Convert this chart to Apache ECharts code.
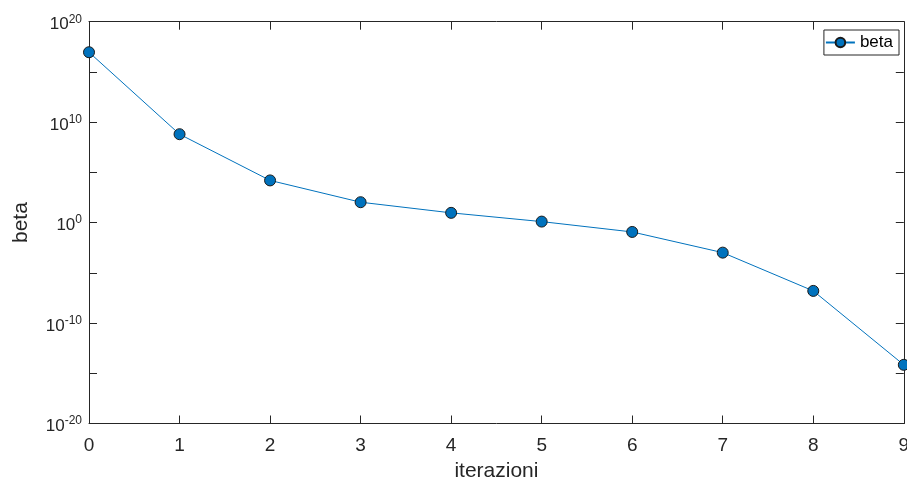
<!DOCTYPE html>
<html>
<head>
<meta charset="utf-8">
<script src="https://cdn.jsdelivr.net/npm/echarts@6/dist/echarts.min.js"></script>
<style>html,body{margin:0;padding:0;background:#fff}#c{width:907px;height:481px}</style>
</head>
<body>
<div id="c"></div>
<script>
const iterations = [0, 1, 2, 3, 4, 5, 6, 7, 8, 9];
const betaExponents = [16.96, 8.8, 4.2, 2.03, 0.97, 0.1, -0.93, -2.99, -6.8, -14.16];
const betaValues = betaExponents.map(e => Math.pow(10, e));
const seriesName = 'beta';
const xTickLabels = ['0','1','2','3','4','5','6','7','8','9'];

const chart = echarts.init(document.getElementById('c'));
const axisCol = '#262626';
const font = 'Liberation Sans, Arial, Helvetica, sans-serif';

function yLabel(v) {
  const e = Math.round(Math.log10(v));
  if (e % 10 !== 0) return '';
  return '{b|10}{s|' + e + '}';
}

chart.setOption({
  animation: false,
  grid: { left: 89, top: 21.7, right: 3.2, bottom: 57.5, show: false, outerBoundsMode: 'none', containLabel: false },
  legend: {
    data: [seriesName],
    right: 8, top: 30,
    orient: 'vertical',
    backgroundColor: '#fff',
    borderColor: axisCol, borderWidth: 1, borderRadius: 0,
    padding: [4, 6, 4, 1],
    itemWidth: 29, itemHeight: 12, itemGap: 0,
    textStyle: { fontFamily: font, fontSize: 17, color: '#000' }
  },
  xAxis: [{
    type: 'value', min: 0, max: 9, interval: 1,
    name: 'iterazioni', nameLocation: 'middle', nameGap: 35,
    nameTextStyle: { fontFamily: font, fontSize: 21, color: axisCol },
    axisLine: { onZero: false, lineStyle: { color: axisCol, width: 1 } },
    axisTick: { inside: true, length: 8, lineStyle: { color: axisCol } },
    axisLabel: { fontFamily: font, fontSize: 19, color: axisCol, margin: 13,
      formatter: v => xTickLabels[v] },
    splitLine: { show: false }
  }, {
    type: 'value', min: 0, max: 9, interval: 1, position: 'top',
    axisLine: { onZero: false, lineStyle: { color: axisCol, width: 1 } },
    axisTick: { inside: true, length: 8, lineStyle: { color: axisCol } },
    axisLabel: { show: false }, splitLine: { show: false }
  }],
  yAxis: [{
    type: 'log', logBase: 10, min: 1e-20, max: 1e20, interval: 5,
    name: 'beta', nameLocation: 'middle', nameGap: 57,
    nameTextStyle: { fontFamily: font, fontSize: 21, color: axisCol },
    axisLine: { show: true, onZero: false, lineStyle: { color: axisCol, width: 1 } },
    axisTick: { inside: true, length: 8, lineStyle: { color: axisCol } },
    axisLabel: { fontFamily: font, color: axisCol, margin: 7, formatter: yLabel,
      padding: [6, 0, 0, 0],
      rich: {
        b: { fontFamily: font, fontSize: 17, color: axisCol },
        s: { fontFamily: font, fontSize: 12, color: axisCol, padding: [0, 0, 11, 0] }
      }
    },
    splitLine: { show: false }
  }, {
    type: 'log', logBase: 10, min: 1e-20, max: 1e20, interval: 5, position: 'right',
    axisLine: { show: true, onZero: false, lineStyle: { color: axisCol, width: 1 } },
    axisTick: { inside: true, length: 8, lineStyle: { color: axisCol } },
    axisLabel: { show: false }, splitLine: { show: false }
  }],
  series: [{
    name: seriesName, type: 'line',
    xAxisIndex: 0, yAxisIndex: 0,
    data: iterations.map((x, i) => [x, betaValues[i]]),
    symbol: 'circle', symbolSize: 11,
    clip: true,
    lineStyle: { color: '#0072BD', width: 1 },
    itemStyle: { color: '#0072BD', borderColor: '#1a1a1a', borderWidth: 1 }
  }]
});
</script>
</body>
</html>
